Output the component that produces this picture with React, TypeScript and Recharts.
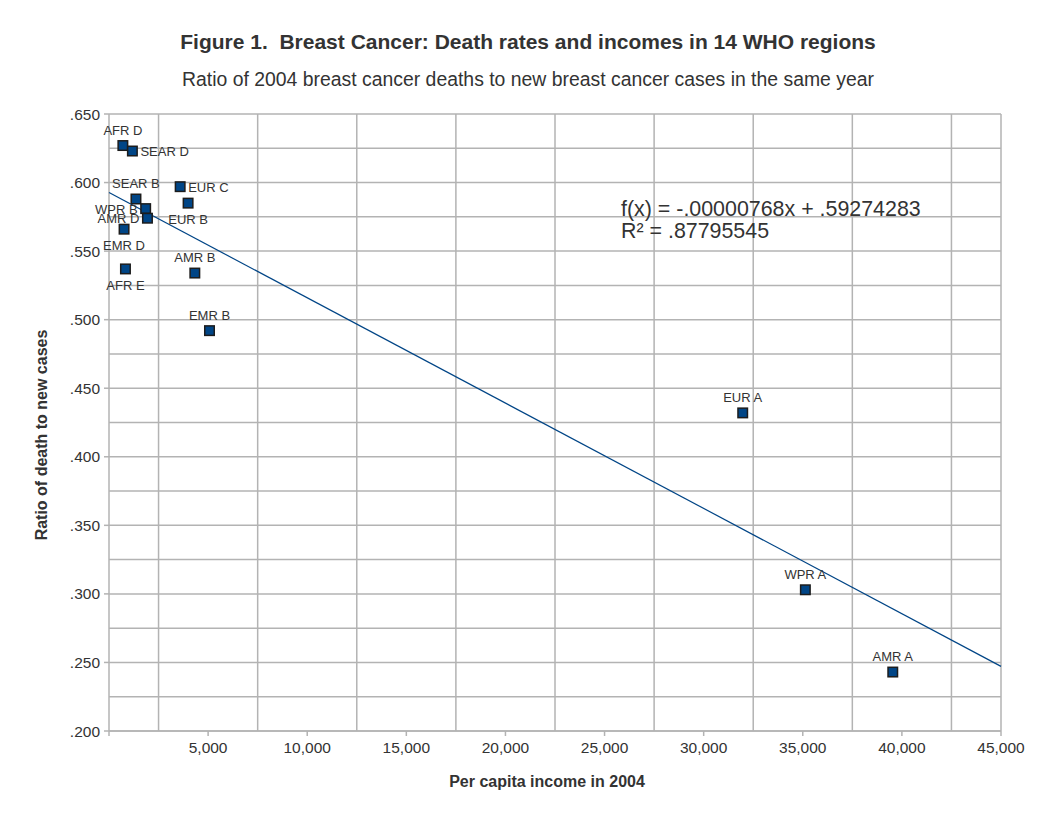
import React from 'react';
import { ScatterChart, Scatter, XAxis, YAxis, CartesianGrid } from 'recharts';

// ---- data ----
const regions = ['AFR D', 'SEAR D', 'SEAR B', 'WPR B', 'AMR D', 'EMR D', 'AFR E', 'EUR C', 'EUR B', 'AMR B', 'EMR B', 'EUR A', 'WPR A', 'AMR A'];
const incomes = [700, 1180, 1360, 1850, 1940, 760, 830, 3590, 3990, 4330, 5070, 31970, 35130, 39540];
const ratios = [0.627, 0.623, 0.588, 0.581, 0.574, 0.566, 0.537, 0.597, 0.585, 0.534, 0.492, 0.432, 0.303, 0.243];

const xTicks = [0, 5000, 10000, 15000, 20000, 25000, 30000, 35000, 40000, 45000];
const yTicks = [0.2, 0.25, 0.3, 0.35, 0.4, 0.45, 0.5, 0.55, 0.6, 0.65];
const xGridValues = [2500, 7500, 12500, 17500, 22500, 27500, 32500, 37500, 42500, 45000];
const yGridValues = [0.2, 0.225, 0.25, 0.275, 0.3, 0.325, 0.35, 0.375, 0.4, 0.425, 0.45, 0.475, 0.5, 0.525, 0.55, 0.575, 0.6, 0.625, 0.65];

// trend line (as printed on the chart)
const slope = -0.00000768;
const intercept = 0.59274283;
const equationText = 'f(x) = -.00000768x + .59274283';
const rSquaredText = 'R\u00B2 = .87795545';
const xMin = 0;
const xMax = 45000;

const points = regions.map((name, i) => ({ name, x: incomes[i], y: ratios[i] }));
const trend = [
  { x: xMin, y: slope * xMin + intercept },
  { x: xMax, y: slope * xMax + intercept },
];

// label placement (style)
const labelSide: Record<string, string> = {
  'AFR D': 'top', 'SEAR D': 'right', 'SEAR B': 'top', 'WPR B': 'left', 'AMR D': 'left',
  'EMR D': 'bottom', 'AFR E': 'bottom', 'EUR C': 'right', 'EUR B': 'bottom', 'AMR B': 'top',
  'EMR B': 'top', 'EUR A': 'top', 'WPR A': 'top', 'AMR A': 'top',
};

const FONT = '"Liberation Sans", Arial, sans-serif';
const TEXT = '#333333';
const GRID = '#b3b3b3';
const BLUE = '#004586';

const PointShape = (props: any) => {
  const { cx, cy, payload } = props;
  if (cx == null || cy == null) return null;
  const side = labelSide[payload.name] || 'top';
  let tx = cx, ty = cy - 11, anchor = 'middle';
  if (side === 'bottom') { ty = cy + 21; }
  if (side === 'right') { tx = cx + 8; ty = cy + 5; anchor = 'start'; }
  if (side === 'left') { tx = cx - 8; ty = cy + 5; anchor = 'end'; }
  return (
    <g>
      <rect x={cx - 4.75} y={cy - 4.75} width={9.5} height={9.5} fill={BLUE} stroke="#1c1c1c" strokeWidth={1.5} />
      <text x={tx} y={ty} textAnchor={anchor} fontSize={13} fill={TEXT} fontFamily={FONT}>{payload.name}</text>
    </g>
  );
};

const NoShape = () => null;

const fmtY = (v: number) => v.toFixed(3).replace(/^0/, '');
const fmtX = (v: number) => (v === 0 ? '' : v.toLocaleString('en-US'));

export default function App() {
  return (
    <div style={{ position: 'relative', width: 1040, height: 800, fontFamily: FONT }}>
      <ScatterChart width={1040} height={800} margin={{ top: 106, right: 47, bottom: 47, left: 0 }}>
        <CartesianGrid
          stroke={GRID}
          strokeWidth={1.5}
          horizontalValues={yGridValues}
          verticalValues={xGridValues}
        />
        <XAxis
          type="number"
          dataKey="x"
          domain={[xMin, xMax]}
          ticks={xTicks}
          tickFormatter={fmtX}
          height={30}
          stroke={GRID}
          strokeWidth={1.5}
          tickSize={5}
          tickMargin={6}
          tick={{ fill: TEXT, fontSize: 15.5, fontFamily: FONT }}
        />
        <YAxis
          type="number"
          dataKey="y"
          domain={[0.2, 0.65]}
          ticks={yTicks}
          tickFormatter={fmtY}
          width={101}
          stroke={GRID}
          strokeWidth={1.5}
          tickSize={5}
          tickMargin={4}
          tick={{ fill: TEXT, fontSize: 15.5, fontFamily: FONT }}
        />
        <Scatter data={trend} line={{ stroke: BLUE, strokeWidth: 1.2 }} shape={NoShape} isAnimationActive={false} />
        <Scatter data={points} shape={PointShape} isAnimationActive={false} />
      </ScatterChart>
      <svg width={1040} height={800} style={{ position: 'absolute', left: 0, top: 0, pointerEvents: 'none' }}>
        <text x={520} y={41} textAnchor="middle" fontSize={21} fontWeight="bold" fill={TEXT} fontFamily={FONT}>
          Figure 1.{'\u00A0\u00A0'}Breast Cancer: Death rates and incomes in 14 WHO regions
        </text>
        <text x={520} y={78} textAnchor="middle" fontSize={19.4} fill={TEXT} fontFamily={FONT}>
          Ratio of 2004 breast cancer deaths to new breast cancer cases in the same year
        </text>
        <text x={0} y={0} transform="translate(39,427) rotate(-90)" textAnchor="middle" fontSize={16} fontWeight="bold" fill={TEXT} fontFamily={FONT}>
          Ratio of death to new cases
        </text>
        <text x={539} y={779} textAnchor="middle" fontSize={16} fontWeight="bold" fill={TEXT} fontFamily={FONT}>
          Per capita income in 2004
        </text>
        <text x={613} y={208} fontSize={21.4} fill={TEXT} fontFamily={FONT}>{equationText}</text>
        <text x={613} y={230} fontSize={21.4} fill={TEXT} fontFamily={FONT}>{rSquaredText}</text>
      </svg>
    </div>
  );
}
